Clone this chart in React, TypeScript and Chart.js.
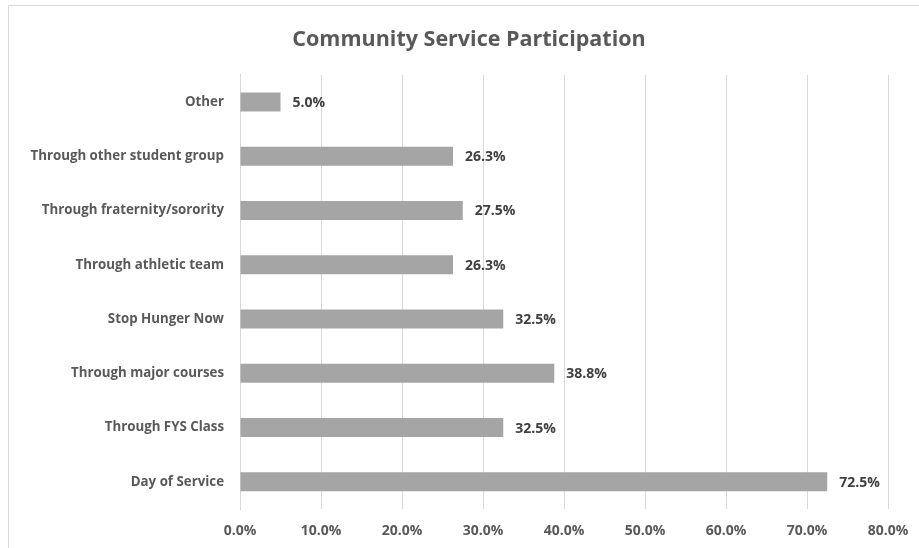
import React, { useEffect, useRef } from "react";
import { Chart, registerables } from "chart.js";

Chart.register(...registerables);

const categories = [
  "Other",
  "Through other student group",
  "Through fraternity/sorority",
  "Through athletic team",
  "Stop Hunger Now",
  "Through major courses",
  "Through FYS Class",
  "Day of Service",
];
const values = [5.0, 26.3, 27.5, 26.3, 32.5, 38.8, 32.5, 72.5];
const xTicks = [0, 10, 20, 30, 40, 50, 60, 70, 80];
const titleText = "Community Service Participation";

const FONT = "'Open Sans', 'Liberation Sans', sans-serif";

const valueLabels = {
  id: "valueLabels",
  afterDatasetsDraw(chart: any) {
    const ctx = chart.ctx;
    const meta = chart.getDatasetMeta(0);
    ctx.save();
    ctx.font = `bold 14px ${FONT}`;
    ctx.fillStyle = "#404040";
    ctx.textAlign = "left";
    ctx.textBaseline = "middle";
    meta.data.forEach((bar: any, i: number) => {
      ctx.fillText(values[i].toFixed(1) + "%", bar.x + 12, bar.y + 1);
    });
    ctx.restore();
  },
};

export default function App() {
  const ref = useRef<HTMLCanvasElement | null>(null);
  useEffect(() => {
    if (!ref.current) return;
    const chart = new Chart(ref.current, {
      type: "bar",
      data: {
        labels: categories,
        datasets: [
          {
            data: values,
            backgroundColor: "#a5a5a5",
            borderWidth: 0,
            categoryPercentage: 1,
            barPercentage: 0.35,
          },
        ],
      },
      options: {
        indexAxis: "y",
        animation: false,
        responsive: false,
        maintainAspectRatio: false,
        layout: { padding: { left: 19, right: 0, top: 0, bottom: 0 } },
        plugins: {
          legend: { display: false },
          tooltip: { enabled: false },
          title: {
            display: true,
            text: titleText,
            color: "#595959",
            font: { family: FONT, size: 21.5, weight: "bold" },
            padding: { top: 27, bottom: 22 },
          },
        },
        scales: {
          x: {
            min: 0,
            max: 80,
            afterBuildTicks: (axis: any) => {
              axis.ticks = xTicks.map((v) => ({ value: v }));
            },
            afterFit: (axis: any) => {
              axis.height = 39;
              axis.paddingRight = 31;
            },
            grid: { color: "#d9d9d9", drawTicks: false, lineWidth: 1 },
            border: { display: false },
            ticks: {
              color: "#595959",
              padding: 14,
              maxRotation: 0,
              font: { family: FONT, size: 14, weight: "bold" },
              callback: (v: any) => Number(v).toFixed(1) + "%",
            },
          },
          y: {
            grid: { display: false, drawTicks: false },
            border: { display: true, color: "#d9d9d9", width: 1 },
            afterFit: (axis: any) => {
              axis.width = 221;
            },
            ticks: {
              color: "#595959",
              padding: 16,
              font: { family: FONT, size: 13.3, weight: "bold" },
            },
          },
        },
      },
      plugins: [valueLabels],
    });
    return () => chart.destroy();
  }, []);
  return (
    <div style={{ position: "fixed", left: 0, top: 0, width: 919, height: 548, overflow: "hidden", background: "#fff" }}>
      <div
        style={{
          position: "absolute",
          left: 8,
          top: 5,
          width: 1000,
          height: 700,
          border: "1px solid #d9d9d9",
        }}
      />
      <canvas ref={ref} width={919} height={548} style={{ position: "absolute", left: 0, top: 0 }} />
    </div>
  );
}
